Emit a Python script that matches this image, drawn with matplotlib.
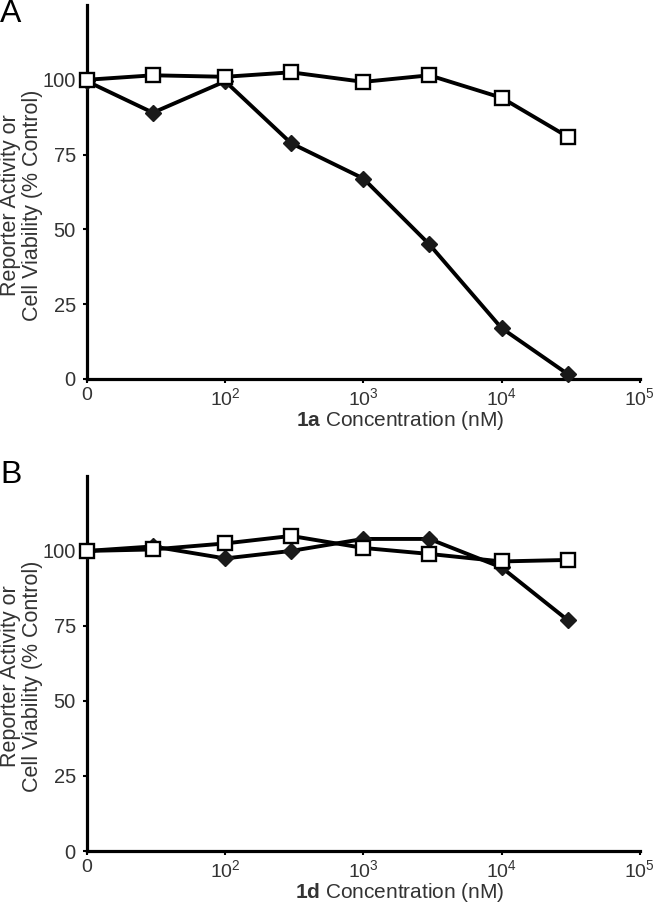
import matplotlib
matplotlib.use("Agg")
import matplotlib.pyplot as plt

plt.rcParams['font.family'] = ['Liberation Sans', 'DejaVu Sans']
plt.rcParams['mathtext.fontset'] = 'custom'
plt.rcParams['mathtext.rm'] = 'Liberation Sans'
plt.rcParams['mathtext.bf'] = 'Liberation Sans:bold'
plt.rcParams['mathtext.it'] = 'Liberation Sans:italic'

# Concentrations (nM); control ("0") plotted at the 10^1 position
conc = [10, 30, 100, 300, 1000, 3000, 10000, 30000]

# Panel A (1a)
a_reporter = [99.5, 89.0, 99.5, 78.8, 67.0, 45.0, 17.0, 1.7]
a_viability = [100.0, 101.5, 101.0, 102.5, 99.3, 101.5, 94.0, 81.0]

# Panel B (1d)
b_reporter = [100.0, 101.5, 97.5, 100.0, 104.0, 104.0, 94.5, 77.0]
b_viability = [100.0, 100.5, 102.5, 105.0, 101.0, 99.0, 96.5, 97.0]

xtick_vals = [10, 100, 1000, 10000, 100000]
xtick_labels = ['0', '$10^2$', '$10^3$', '$10^4$', '$10^5$']
ytick_vals = [0, 25, 50, 75, 100]

fig = plt.figure(figsize=(6.66, 9.06), dpi=100)

panels = [
    ([0.1306, 0.5817, 0.830, 0.4128], a_reporter, a_viability, '1a', 'A', 0.985),
    ([0.1306, 0.0607, 0.830, 0.4140], b_reporter, b_viability, '1d', 'B', 0.476),
]

for rect, rep, via, cmpd, letter, ly in panels:
    ax = fig.add_axes(rect)
    ax.plot(conc, rep, color='black', lw=2.8, marker='D', markersize=8,
            markerfacecolor='#1a1a1a', markeredgecolor='#1a1a1a', zorder=3,
            clip_on=False)
    ax.plot(conc, via, color='black', lw=2.8, marker='s', markersize=9.5,
            markerfacecolor='white', markeredgecolor='black', markeredgewidth=1.7,
            zorder=4, clip_on=False)
    ax.set_xscale('log')
    ax.set_xlim(10, 100000)
    ax.set_ylim(0, 125)
    ax.set_xticks(xtick_vals)
    ax.set_xticklabels(xtick_labels)
    ax.minorticks_off()
    ax.set_yticks(ytick_vals)
    for s in ['top', 'right']:
        ax.spines[s].set_visible(False)
    for s in ['left', 'bottom']:
        ax.spines[s].set_linewidth(2.3)
        ax.spines[s].set_color('black')
    ax.tick_params(axis='both', length=3, width=1.5, labelsize=14,
                   colors='black', labelcolor='#333333')
    ax.tick_params(axis='y', labelsize=14.5, pad=5)
    ax.tick_params(axis='x', pad=3)
    ax.set_ylabel('Reporter Activity or\nCell Viability (% Control)',
                  fontsize=15.5, color='#333333', linespacing=1.05)
    ax.yaxis.set_label_coords(-0.08, 0.465)
    ax.set_xlabel(r'$\mathbf{' + cmpd + r'}$ Concentration (nM)',
                  fontsize=15, color='#333333')
    ax.xaxis.set_label_coords(0.566, -0.081)
    fig.text(0.0, ly, letter, fontsize=23, color='black', ha='left', va='center')

fig.savefig('out.png', dpi=100)
